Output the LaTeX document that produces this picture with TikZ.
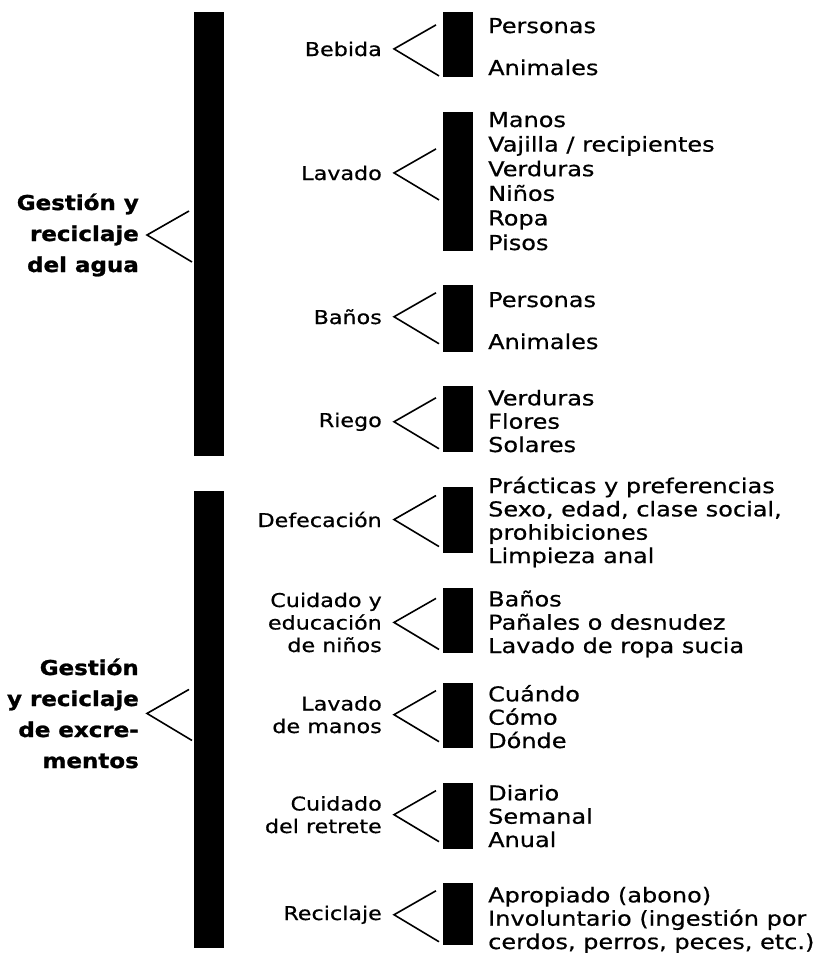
\documentclass[tikz,border=0pt]{standalone}
\usepackage{fontspec}
\setmainfont{DejaVu Sans}[FakeStretch=1.17, FakeBold=0.6]
\newfontfamily\headfont{DejaVu Sans}[FakeStretch=1.12, BoldFeatures={FakeBold=1.2}]
\usetikzlibrary{calc}

% text nodes are placed by the baseline of their last line
\tikzset{
  bar/.style={fill=black, draw=none, inner sep=0pt, minimum width=30pt, anchor=north west},
  brk/.style={draw=black, line width=1.6pt, line join=miter},
  head/.style={anchor=base east, align=right, inner sep=0pt,
    font=\headfont\bfseries\fontsize{20.5}{31}\selectfont},
  topic/.style={anchor=base east, align=right, inner sep=0pt,
    font=\fontsize{19}{22.5}\selectfont},
  items/.style={anchor=base west, align=left, inner sep=0pt,
    font=\fontsize{20.5}{23.3}\selectfont},
  wideitems/.style={items, font=\fontsize{20.5}{24.6}\selectfont},
}

% bracket "<" from an apex towards a bar
\newcommand{\bracketfrom}[1]{%
  \draw[brk] ($(#1)+(42,-24)$) -- (#1) -- ($(#1)+(45,27)$);}

\begin{document}
\begin{tikzpicture}[x=1pt,y=-1pt]
\useasboundingbox (0,0) rectangle (821,953);
\fill[white] (0,0) rectangle (821,953);

% main bars
\node[bar, minimum height=444pt] (barA) at (194,12) {};
\node[bar, minimum height=457pt] (barB) at (194,491) {};

% main headings
\node[head] (hA) at (139,272) {Gestión y\\reciclaje\\del agua};
\node[head] (hB) at (139,768) {Gestión\\y reciclaje\\de excre-\\mentos};
\coordinate (aA) at ($(hA.east)+(8,0)$);
\coordinate (aB) at ($(hB.east)+(8,0)$);
\bracketfrom{aA}
\bracketfrom{aB}

% sub bars
\node[bar, minimum height=65pt]  (s1) at (443,12)  {};
\node[bar, minimum height=139pt] (s2) at (443,112) {};
\node[bar, minimum height=67pt]  (s3) at (443,285) {};
\node[bar, minimum height=66pt]  (s4) at (443,386) {};
\node[bar, minimum height=66pt]  (s5) at (443,487) {};
\node[bar, minimum height=65pt]  (s6) at (443,588) {};
\node[bar, minimum height=65pt]  (s7) at (443,683) {};
\node[bar, minimum height=66pt]  (s8) at (443,783) {};
\node[bar, minimum height=62pt]  (s9) at (443,883) {};

% topics
\node[topic] (t1) at (382,56)  {Bebida};
\node[topic] (t2) at (382,180) {Lavado};
\node[topic] (t3) at (382,324) {Baños};
\node[topic] (t4) at (382,427) {Riego};
\node[topic] (t5) at (382,527) {Defecación};
\node[topic] (t6) at (382,652) {Cuidado y\\educación\\de niños};
\node[topic] (t7) at (382,733) {Lavado\\de manos};
\node[topic] (t8) at (382,833) {Cuidado\\del retrete};
\node[topic] (t9) at (382,920) {Reciclaje};

\foreach \i in {1,...,9}{
  \coordinate (a\i) at ($(t\i.east)+(12,0)$);
  \bracketfrom{a\i}
}

% items
\node[items] (i1) at (488,75)  {Personas\\[18.7pt]Animales};
\node[wideitems] (i2) at (488,250) {Manos\\Vajilla / recipientes\\Verduras\\Niños\\Ropa\\Pisos};
\node[items] (i3) at (488,349) {Personas\\[18.7pt]Animales};
\node[items] (i4) at (488,452) {Verduras\\Flores\\Solares};
\node[items] (i5) at (488,563) {Prácticas y preferencias\\Sexo, edad, clase social,\\prohibiciones\\Limpieza anal};
\node[items] (i6) at (488,653) {Baños\\Pañales o desnudez\\Lavado de ropa sucia};
\node[items] (i7) at (488,748) {Cuándo\\Cómo\\Dónde};
\node[items] (i8) at (488,847) {Diario\\Semanal\\Anual};
\node[items] (i9) at (488,949) {Apropiado (abono)\\Involuntario (ingestión por\\cerdos, perros, peces, etc.)};
\end{tikzpicture}
\end{document}
